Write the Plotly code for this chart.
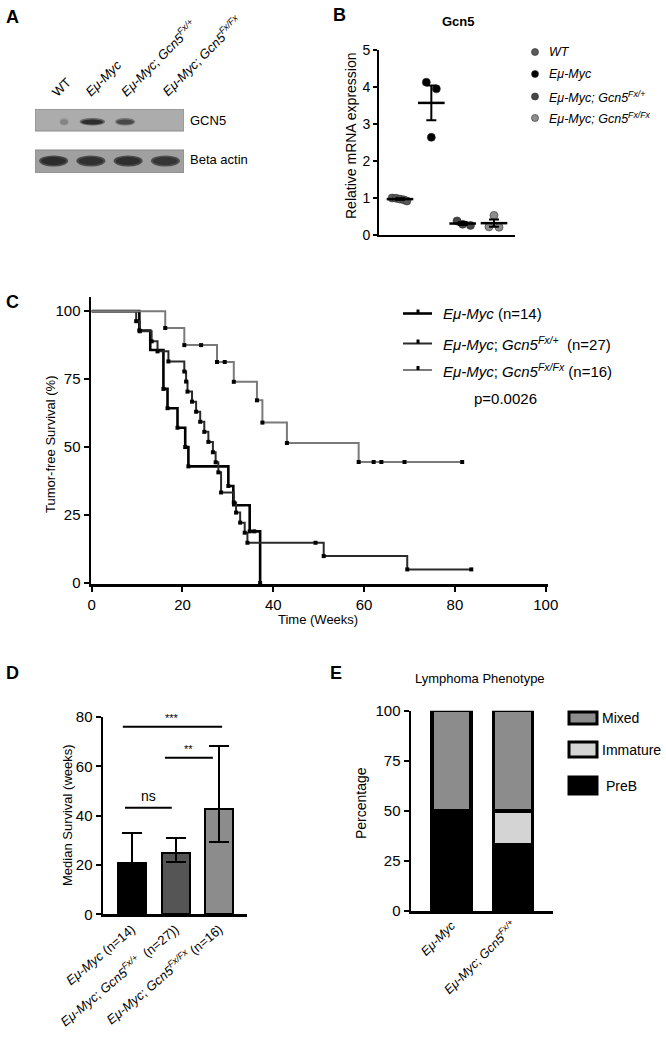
import plotly.graph_objects as go

W, H = 666, 1050
FONT = "Liberation Sans, Arial, sans-serif"


def px(x):
    return x / W


def py(y):
    return 1 - y / H


# ---------------- DATA ----------------
# A: western blot, relative band intensity (0..1)
blot_lanes = ["WT", "<i>Eμ-Myc</i>", "<i>Eμ-Myc</i>; <i>Gcn5<sup>Fx/+</sup></i>",
              "<i>Eμ-Myc</i>; <i>Gcn5<sup>Fx/Fx</sup></i>"]
gcn5_band = [0.30, 0.95, 0.75, 0.0]
actin_band = [0.95, 0.92, 0.93, 0.88]

# B: relative mRNA expression
b_labels = ["WT", "Eμ-Myc", "Eμ-Myc; Gcn5<sup>Fx/+</sup>", "Eμ-Myc; Gcn5<sup>Fx/Fx</sup>"]
b_wt = [1.00, 0.99, 0.97, 0.95, 0.92]
b_myc = [4.13, 3.95, 2.64]
b_fxp = [0.38, 0.29, 0.26]
b_fxfx = [0.53, 0.22, 0.21]
b_mean = [0.97, 3.57, 0.31, 0.32]
b_sem = [0.02, 0.47, 0.04, 0.10]

# C: Kaplan-Meier tumor-free survival (weeks, %)
km_myc_t = [0, 10.5, 12.9, 15.8, 16.7, 18.9, 20.6, 21.3, 30.1, 31.2, 34.8, 37.1]
km_myc_s = [100, 92.9, 85.7, 71.4, 64.3, 57.1, 50.0, 42.9, 35.7, 28.6, 19.0, 0]
km_myc_mark_t = [10.5, 15.8, 16.7, 18.9, 20.6, 21.3, 30.1, 34.8, 35.8, 37.1]
km_myc_mark_s = [92.9, 71.4, 64.3, 57.1, 50.0, 42.9, 35.7, 19.0, 19.0, 0]

km_fxp_t = [0, 9.8, 10.6, 13.2, 14.5, 16.9, 20.4, 20.8, 21.1, 22.1, 23.0, 23.9, 24.8,
            25.7, 26.7, 27.3, 27.9, 28.5, 31.3, 31.8, 32.7, 33.7, 34.3, 51.1, 69.5, 83.6]
km_fxp_s = [100, 96.3, 92.6, 88.9, 85.2, 81.5, 77.8, 74.1, 70.4, 66.7, 63.0, 59.3, 55.6,
            51.9, 48.1, 44.4, 40.7, 33.3, 29.6, 25.9, 22.2, 18.5, 14.8, 9.9, 5.0, 5.0]
km_fxp_mark_t = [9.8, 10.6, 13.2, 14.5, 16.9, 20.4, 20.8, 21.1, 22.1, 23.0, 23.9, 24.8,
                 25.7, 26.7, 27.3, 27.9, 28.5, 31.3, 31.8, 32.7, 33.7, 34.3, 49.3, 51.1,
                 69.5, 83.6]
km_fxp_mark_s = [96.3, 92.6, 88.9, 85.2, 81.5, 77.8, 74.1, 70.4, 66.7, 63.0, 59.3, 55.6,
                 51.9, 48.1, 44.4, 40.7, 33.3, 29.6, 25.9, 22.2, 18.5, 14.8, 14.8, 9.9,
                 5.0, 5.0]

km_fxfx_t = [0, 16.2, 20.4, 27.6, 31.3, 36.4, 37.6, 43.0, 58.8, 81.6]
km_fxfx_s = [100, 93.8, 87.5, 81.3, 74.0, 67.2, 59.0, 51.5, 44.5, 44.5]
km_fxfx_mark_t = [16.2, 20.4, 24.1, 27.6, 29.3, 31.3, 36.4, 37.6, 43.0, 58.8, 62.1,
                  63.8, 68.9, 81.6]
km_fxfx_mark_s = [93.8, 87.5, 87.5, 81.3, 81.3, 74.0, 67.2, 59.0, 51.5, 44.5, 44.5,
                  44.5, 44.5, 44.5]

km_legend = ["<i>Eμ-Myc</i> (n=14)",
             "<i>Eμ-Myc</i>; <i>Gcn5<sup>Fx/+</sup></i>  (n=27)",
             "<i>Eμ-Myc</i>; <i>Gcn5<sup>Fx/Fx</sup></i> (n=16)"]
p_value = "p=0.0026"

# D: median survival
d_labels = ["<i>Eμ-Myc</i> (n=14)",
            "<i>Eμ-Myc</i>; <i>Gcn5<sup>Fx/+</sup></i>  (n=27))",
            "<i>Eμ-Myc</i>; <i>Gcn5<sup>Fx/Fx</sup></i> (n=16)"]
d_median = [21.0, 24.8, 42.6]
d_upper = [32.9, 31.1, 68.3]
d_lower = [21.0, 21.1, 29.2]
d_sig = ["***", "**", "ns"]
d_sig_y = [76.0, 63.5, 43.2]

# E: lymphoma phenotype (%)
e_labels = ["<i>Eμ-Myc</i>", "<i>Eμ-Myc</i>; <i>Gcn5<sup>Fx/+</sup></i>"]
e_preb = [50.0, 33.3]
e_immature = [0.0, 16.7]
e_mixed = [50.0, 50.0]
e_series = ["Mixed", "Immature", "PreB"]

# ---------------- STYLE ----------------
C_WT = "#5a5a5a"
C_MYC = "#000000"
C_FXP = "#474747"
C_FXFX = "#8e8e8e"
b_colors = [C_WT, C_MYC, C_FXP, C_FXFX]

fig = go.Figure()
shapes = []
ann = []


def txt(x, y, s, size=13, anchor="center", angle=0, color="black", yanchor="middle"):
    ann.append(dict(x=px(x), y=py(y), xref="paper", yref="paper", text=s,
                    showarrow=False, xanchor=anchor, yanchor=yanchor, textangle=angle,
                    borderpad=0, font=dict(size=size, family=FONT, color=color)))


# ---------- Panel A ----------
def mix(c1, c2, t):
    return "rgb(%d,%d,%d)" % tuple(round(a + (b - a) * t) for a, b in zip(c1, c2))


BG_G = (172, 172, 172)
BG_A = (160, 160, 160)
DARK = (38, 38, 38)
shapes.append(dict(type="rect", xref="x", yref="y", x0=0, x1=4, y0=42, y1=64,
                   fillcolor=mix(BG_G, BG_G, 0), line=dict(color="#8a8a8a", width=1), layer="below"))
shapes.append(dict(type="rect", xref="x", yref="y", x0=0, x1=4, y0=0, y1=23,
                   fillcolor=mix(BG_A, BG_A, 0), line=dict(color="#888888", width=1), layer="below"))
gcn5_shift = [0.28, 0.04, -0.08, -0.2]
gcn5_halfw = [0.12, 0.34, 0.27, 0.2]
for i, v in enumerate(gcn5_band):
    if v <= 0:
        continue
    cx = i + 0.5 + gcn5_shift[i]
    hw = gcn5_halfw[i]
    shapes.append(dict(type="circle", xref="x", yref="y", x0=cx - hw, x1=cx + hw,
                       y0=47.5, y1=55, fillcolor=mix(BG_G, DARK, v * 0.55),
                       line=dict(width=0), layer="above"))
    shapes.append(dict(type="circle", xref="x", yref="y", x0=cx - hw * 0.85, x1=cx + hw * 0.85,
                       y0=48.5, y1=53.5, fillcolor=mix(BG_G, DARK, v),
                       line=dict(width=0), layer="above"))
for i, v in enumerate(actin_band):
    cx = i + 0.5
    shapes.append(dict(type="circle", xref="x", yref="y", x0=cx - 0.39, x1=cx + 0.39,
                       y0=6.5, y1=17.5, fillcolor=mix(BG_A, DARK, v * 0.75),
                       line=dict(width=0), layer="above"))
    shapes.append(dict(type="circle", xref="x", yref="y", x0=cx - 0.33, x1=cx + 0.33,
                       y0=8, y1=16, fillcolor=mix(BG_A, DARK, v),
                       line=dict(width=0), layer="above"))
fig.add_trace(go.Scatter(x=[i + 0.5 for i in range(4)], y=[32] * 4, mode="markers",
                         marker=dict(opacity=0), xaxis="x", yaxis="y", hoverinfo="skip",
                         showlegend=False))
lane_lab_pos = [(61, 87), (103, 78), (158, 58), (201, 56)]
for s, (lx, ly) in zip(blot_lanes, lane_lab_pos):
    txt(lx, ly, s, size=13, angle=-45)
txt(189, 120, "GCN5", size=13, anchor="left")
txt(189, 159, "Beta actin", size=13, anchor="left")

# ---------- Panel B ----------
b_pts = [b_wt, b_myc, b_fxp, b_fxfx]
b_jitter = [[-0.25, -0.12, 0.0, 0.12, 0.22], [-0.16, 0.16, 0.0], [-0.18, 0.0, 0.25],
            [0.0, -0.16, 0.16]]
for gi, (vals, jit) in enumerate(zip(b_pts, b_jitter)):
    fig.add_trace(go.Scatter(
        x=[gi + 1 + j for j in jit], y=vals, mode="markers", xaxis="x2", yaxis="y2",
        marker=dict(size=8, color=b_colors[gi], line=dict(width=0.6, color="#2a2a2a")),
        showlegend=False, hoverinfo="skip"))
fig.add_trace(go.Scatter(
    x=[1, 2, 3, 4], y=b_mean, mode="markers", xaxis="x2", yaxis="y2",
    marker=dict(symbol="line-ew", size=19, line=dict(width=2.5, color="black")),
    error_y=dict(type="data", array=b_sem, thickness=2, width=5, color="black"),
    showlegend=False, hoverinfo="skip"))
txt(459, 22, "<b>Gcn5</b>", size=13)
txt(351, 135, "Relative mRNA expression", size=14, angle=-90)
leg_y = [52, 74, 96.5, 118]
for lab, col, yy in zip(b_labels, b_colors, leg_y):
    shapes.append(dict(type="circle", xref="paper", yref="paper", x0=px(531.5), x1=px(538.5),
                       y0=py(yy + 3.5), y1=py(yy - 3.5), fillcolor=col,
                       line=dict(width=0.6, color="#2a2a2a")))
    txt(548, yy, "<i>" + lab + "</i>", size=12.5, anchor="left")

# ---------- Panel C ----------
km = [(km_myc_t, km_myc_s, km_myc_mark_t, km_myc_mark_s, "#000000", 2.6),
      (km_fxp_t, km_fxp_s, km_fxp_mark_t, km_fxp_mark_s, "#2b2b2b", 2.0),
      (km_fxfx_t, km_fxfx_s, km_fxfx_mark_t, km_fxfx_mark_s, "#7a7a7a", 2.0)]
for t, s, mt, ms, col, lw in km:
    fig.add_trace(go.Scatter(x=t, y=s, mode="lines", line=dict(shape="hv", color=col, width=lw),
                             xaxis="x3", yaxis="y3", showlegend=False, hoverinfo="skip"))
for t, s, mt, ms, col, lw in km:
    fig.add_trace(go.Scatter(x=mt, y=ms, mode="markers", xaxis="x3", yaxis="y3",
                             marker=dict(symbol="square", size=4, color="black"),
                             showlegend=False, hoverinfo="skip"))
txt(50, 445, "Tumor-free Survival (%)", size=13, angle=-90)
txt(318, 619, "Time (Weeks)", size=13)
cleg_y = [313.5, 343.5, 370]
for lab, (t, s, mt, ms, col, lw), yy in zip(km_legend, km, cleg_y):
    shapes.append(dict(type="line", xref="paper", yref="paper", x0=px(403), x1=px(432),
                       y0=py(yy), y1=py(yy), line=dict(color=col, width=lw)))
    shapes.append(dict(type="rect", xref="paper", yref="paper", x0=px(416.5), x1=px(419.5),
                       y0=py(yy), y1=py(yy - 4), fillcolor="black", line=dict(width=0)))
    txt(442, yy, lab, size=15, anchor="left")
txt(473, 398, p_value, size=15, anchor="left")

# ---------- Panel D ----------
fig.add_trace(go.Bar(
    x=[0, 1, 2], y=d_median, width=0.64, xaxis="x4", yaxis="y4",
    marker=dict(color=["#000000", "#555555", "#8c8c8c"], line=dict(color="black", width=2)),
    error_y=dict(type="data", array=[u - m for u, m in zip(d_upper, d_median)],
                 arrayminus=[m - l for m, l in zip(d_median, d_lower)],
                 thickness=2, width=10, color="black"),
    showlegend=False, hoverinfo="skip"))
# significance bars (x in category units, converted to px for labels)
D_X0, D_DX = 132.0, 43.75       # px of category 0, px per category
D_Y0, D_DY = 914.3, 197.3 / 80  # px of value 0, px per unit
sig_x = [(-0.21, 2.06), (0.754, 1.85), (-0.16, 0.91)]
sig_txt_dy = [9, 9, 12]
for (x0, x1), yv, lab, dy in zip(sig_x, d_sig_y, d_sig, sig_txt_dy):
    shapes.append(dict(type="line", xref="x4", yref="y4", x0=x0, x1=x1, y0=yv, y1=yv,
                       line=dict(color="black", width=2)))
    txt(D_X0 + D_DX * (x0 + x1) / 2, D_Y0 - D_DY * yv - dy, lab,
        size=14 if lab == "ns" else 11)
txt(67, 815, "Median Survival (weeks)", size=13, angle=-90)

# ---------- Panel E ----------
e_colors = {"Mixed": "#8c8c8c", "Immature": "#d4d4d4", "PreB": "#000000"}
for name, vals in [("PreB", e_preb), ("Immature", e_immature), ("Mixed", e_mixed)]:
    fig.add_trace(go.Bar(x=[0, 1], y=vals, width=0.64, xaxis="x5", yaxis="y5", name=name,
                         marker=dict(color=e_colors[name], line=dict(color="black", width=3.5)),
                         showlegend=False, hoverinfo="skip"))
txt(480, 679, "Lymphoma Phenotype", size=13)
txt(361, 803, "Percentage", size=14, angle=-90)
eleg = [(712, 724), (742, 757), (777, 794)]
for name, (y0, y1) in zip(e_series, eleg):
    shapes.append(dict(type="rect", xref="paper", yref="paper", x0=px(569), x1=px(597),
                       y0=py(y1), y1=py(y0), fillcolor=e_colors[name],
                       line=dict(color="black", width=3)))
    txt(601 if name != "PreB" else 605, (y0 + y1) / 2, name, size=14, anchor="left")

# panel letters
for L, (lx, ly) in zip("ABCDE", [(12, 17), (339, 15), (12, 302), (12, 673), (336, 673)]):
    txt(lx, ly, "<b>" + L + "</b>", size=18)

# ---------------- AXES ----------------
base = dict(showgrid=False, zeroline=False, showline=True, linecolor="black", linewidth=2,
            ticks="outside", ticklen=5, tickwidth=2, tickcolor="black", automargin=False,
            tickfont=dict(size=15, family=FONT, color="black"))
hidden = dict(visible=False, showgrid=False, zeroline=False, automargin=False)

fig.update_layout(
    width=W, height=H, margin=dict(l=0, r=0, t=0, b=0, autoexpand=False),
    paper_bgcolor="white", plot_bgcolor="white", barmode="stack", bargap=0,
    font=dict(family=FONT, color="black"),
    xaxis=dict(hidden, domain=[px(35), px(184)], range=[0, 4], anchor="y"),
    yaxis=dict(hidden, domain=[py(173), py(109)], range=[0, 64], anchor="x"),
    xaxis2=dict(base, domain=[px(379), px(515)], range=[0.33, 4.67], anchor="y2",
                ticks="", showticklabels=False),
    yaxis2=dict(base, domain=[py(235), py(50)], range=[0, 5], anchor="x2",
                tickvals=[0, 1, 2, 3, 4, 5], ticklen=4, tickfont=dict(size=14, family=FONT)),
    xaxis3=dict(base, domain=[px(91), px(548)], range=[-0.15, 100.5], anchor="y3",
                tickvals=[0, 20, 40, 60, 80, 100], linewidth=2.5),
    yaxis3=dict(base, domain=[py(584), py(297)], range=[-0.37, 105.2], anchor="x3",
                tickvals=[0, 25, 50, 75, 100], linewidth=2.5),
    xaxis4=dict(base, domain=[px(103), px(247)], range=[-0.663, 2.63], anchor="y4",
                tickvals=[0, 1, 2], ticktext=d_labels, tickangle=-40, ticks="",
                tickfont=dict(size=13, family=FONT), linewidth=2.5),
    yaxis4=dict(base, domain=[py(914.3), py(717)], range=[0, 80], anchor="x4",
                tickvals=[0, 20, 40, 60, 80], linewidth=2.5),
    xaxis5=dict(base, domain=[px(411), px(553)], range=[-0.659, 1.65], anchor="y5",
                tickvals=[0, 1], ticktext=e_labels, tickangle=-45, ticks="",
                tickfont=dict(size=12.5, family=FONT), linewidth=2.5),
    yaxis5=dict(base, domain=[py(911), py(710.7)], range=[0, 100], anchor="x5",
                tickvals=[0, 25, 50, 75, 100], linewidth=2.5),
    shapes=shapes, annotations=ann,
)

fig.write_html("out.html", config={"displayModeBar": False, "staticPlot": True},
               post_script="document.body.style.margin='0';"
                           "document.body.style.overflow='hidden';")
